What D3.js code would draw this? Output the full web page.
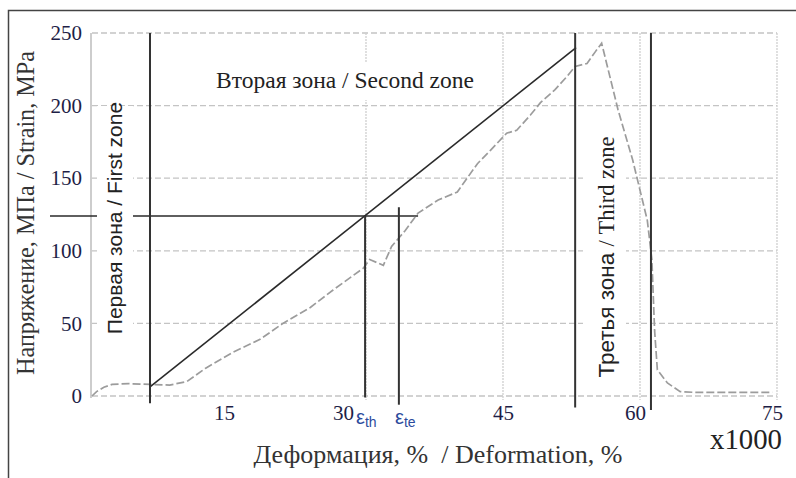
<!DOCTYPE html>
<html>
<head>
<meta charset="utf-8">
<script src="https://cdn.jsdelivr.net/npm/d3@7"></script>
<style>
body { margin: 0; background: #fff; }
svg { display: block; }
</style>
</head>
<body>
<svg width="796" height="478"></svg>
<script>
// test curve: deformation (x1000) / stress, MPa
let curveX = [0, 0.5, 1.3, 2.2, 4, 6.4, 8.5, 10.4, 11.3, 12.4, 15.4, 18.4, 20.9, 23.9, 26.4, 29.7, 30.4, 31.9, 32.8, 34.3, 35.7, 37.9, 40, 42.2, 43.6, 45.4, 46.5, 48, 49.1, 50.7, 52, 52.9, 54.2, 55.1, 55.8, 57.6, 59.2, 60.8, 61.3, 61.6, 61.9, 63, 64.4, 66, 74.5];
let curveY = [0, 3, 6, 8, 8.5, 8, 7.5, 10, 14, 19, 30, 39, 50, 61, 73, 88, 94, 90, 103, 114, 126, 135, 140.5, 160, 169, 181, 183, 193.5, 202, 211, 220, 227, 229, 237, 243, 197, 162.5, 121, 94, 45, 18, 9, 3, 2.5, 2.5];

// straight approximation of the second zone
let lineX = [6.35, 53.0];
let lineY = [6.2, 240];

// zone borders and strain markers (eps_th, eps_te)
let vLineX = [6.35, 29.9, 33.6, 52.9, 61.2];
let vLineTop = [250, 124, 130, 250, 250];
let vLineBottom = [-5, -1, -6, -8, -9.6];
let hLineX = [-4.6, 35.7];
let hLineY = 124;

let xTicks = [15, 30, 45, 60, 75];
let xGrid = [30, 45, 60, 75];
let yTicks = [0, 50, 100, 150, 200, 250];

let svg = d3.select("svg");
let serif = "'Liberation Serif', 'Times New Roman', serif";
let sans = "'Liberation Sans', Arial, sans-serif";

let x = d3.scaleLinear().domain([0, 75]).range([92, 777]);
let y = d3.scaleLinear().domain([0, 250]).range([396, 33]);

// outer frame (cropped picture border)
svg.append("rect")
    .attr("x", 8.5).attr("y", 10.5)
    .attr("width", 900).attr("height", 600)
    .attr("fill", "none").attr("stroke", "#444").attr("stroke-width", 1.5);

// grid
svg.append("g").selectAll("line")
    .data(yTicks)
    .enter().append("line")
      .attr("x1", x(0)).attr("x2", x(75))
      .attr("y1", function(d) { return y(d); })
      .attr("y2", function(d) { return y(d); })
      .attr("stroke", "#c4c4c4").attr("stroke-width", 1.3)
      .attr("stroke-dasharray", "6,3");

svg.append("g").selectAll("line")
    .data(xGrid)
    .enter().append("line")
      .attr("x1", function(d) { return x(d); })
      .attr("x2", function(d) { return x(d); })
      .attr("y1", y(250)).attr("y2", y(0) + 4)
      .attr("stroke", "#cfcfcf").attr("stroke-width", 1.3)
      .attr("stroke-dasharray", "2,1");

// y axis line
svg.append("line")
    .attr("x1", x(0) - 1).attr("x2", x(0) - 1)
    .attr("y1", y(250)).attr("y2", y(0) + 2)
    .attr("stroke", "#bcbcbc").attr("stroke-width", 1.5);

// horizontal marker line
svg.append("line")
    .attr("x1", x(hLineX[0])).attr("x2", x(hLineX[1]))
    .attr("y1", y(hLineY)).attr("y2", y(hLineY))
    .attr("stroke", "#2a2a2a").attr("stroke-width", 1.6);

// white boxes behind zone labels
let boxes = [[97, 106, 36, 234], [583, 133, 43, 252], [205, 63, 280, 37]];
svg.append("g").selectAll("rect")
    .data(boxes)
    .enter().append("rect")
      .attr("x", function(d) { return d[0]; })
      .attr("y", function(d) { return d[1]; })
      .attr("width", function(d) { return d[2]; })
      .attr("height", function(d) { return d[3]; })
      .attr("fill", "#fff");

// zone labels
svg.append("text")
    .attr("x", 345).attr("y", 88)
    .attr("text-anchor", "middle")
    .attr("font-family", serif).attr("font-size", 23.5).attr("fill", "#222")
    .text("Вторая зона / Second zone");

svg.append("text")
    .attr("transform", "translate(122,218) rotate(-90)")
    .attr("text-anchor", "middle")
    .attr("font-family", sans).attr("font-size", 21).attr("fill", "#222")
    .text("Первая зона / First zone");

let z3 = svg.append("text")
    .attr("transform", "translate(614,257) rotate(-90)")
    .attr("text-anchor", "middle")
    .attr("font-size", 22.5).attr("fill", "#222");
z3.append("tspan").attr("font-family", sans).text("Третья зона ");
z3.append("tspan").attr("font-family", serif).text("/ Third zone");

// test curve
svg.append("path")
    .datum(d3.range(curveX.length))
    .attr("fill", "none")
    .attr("stroke", "#9c9c9c").attr("stroke-width", 1.7)
    .attr("stroke-dasharray", "8,3")
    .attr("d", d3.line()
      .x(function(i) { return x(curveX[i]); })
      .y(function(i) { return y(curveY[i]); }));

// approximation line
svg.append("path")
    .datum(d3.range(lineX.length))
    .attr("fill", "none")
    .attr("stroke", "#2a2a2a").attr("stroke-width", 1.6)
    .attr("d", d3.line()
      .x(function(i) { return x(lineX[i]); })
      .y(function(i) { return y(lineY[i]); }));

// vertical zone borders
svg.append("g").selectAll("line")
    .data(vLineX)
    .enter().append("line")
      .attr("x1", function(d) { return x(d); })
      .attr("x2", function(d) { return x(d); })
      .attr("y1", function(d, i) { return y(vLineTop[i]); })
      .attr("y2", function(d, i) { return y(vLineBottom[i]); })
      .attr("stroke", "#333").attr("stroke-width", 2);

// axes
let xAxis = svg.append("g")
    .attr("transform", "translate(0," + y(0) + ")")
    .call(d3.axisBottom(x).tickValues(xTicks).tickSize(0).tickPadding(8));
xAxis.select(".domain").remove();
xAxis.selectAll("text")
    .style("font-family", serif).attr("font-size", 21).attr("fill", "#1e1e46")
    .attr("dx", function(d) { return d == 30 ? -23 : (d == 45 ? 0 : -5); })
    .attr("dy", "0.75em");

let yAxis = svg.append("g")
    .attr("transform", "translate(" + (x(0) - 8) + ",0)")
    .call(d3.axisLeft(y).tickValues(yTicks).tickSize(0).tickPadding(2));
yAxis.select(".domain").remove();
yAxis.selectAll("text")
    .style("font-family", serif).attr("font-size", 21).attr("fill", "#1e1e46");

// strain markers
let eth = svg.append("text")
    .attr("x", 356).attr("y", 424)
    .attr("font-family", sans).attr("font-size", 20).attr("fill", "#2b4a9c");
eth.append("tspan").text("ε");
eth.append("tspan").attr("font-size", 14).attr("dy", 3).text("th");

let ete = svg.append("text")
    .attr("x", 395).attr("y", 424)
    .attr("font-family", sans).attr("font-size", 20).attr("fill", "#2b4a9c");
ete.append("tspan").text("ε");
ete.append("tspan").attr("font-size", 14).attr("dy", 3).text("te");

// axis titles
svg.append("text")
    .attr("x", 438).attr("y", 463)
    .attr("text-anchor", "middle")
    .attr("font-family", serif).attr("font-size", 26).attr("fill", "#333")
    .attr("xml:space", "preserve")
    .text("Деформация, %  / Deformation, %");

svg.append("text")
    .attr("transform", "translate(34,213) rotate(-90)")
    .attr("text-anchor", "middle")
    .attr("font-family", serif).attr("font-size", 24.2).attr("fill", "#333")
    .text("Напряжение, МПа / Strain, MPa");

svg.append("text")
    .attr("x", 710).attr("y", 449)
    .attr("font-family", serif)
    .attr("font-size", 29).attr("fill", "#222")
    .attr("textLength", 72).attr("lengthAdjust", "spacingAndGlyphs")
    .text("x1000");
</script>
</body>
</html>
